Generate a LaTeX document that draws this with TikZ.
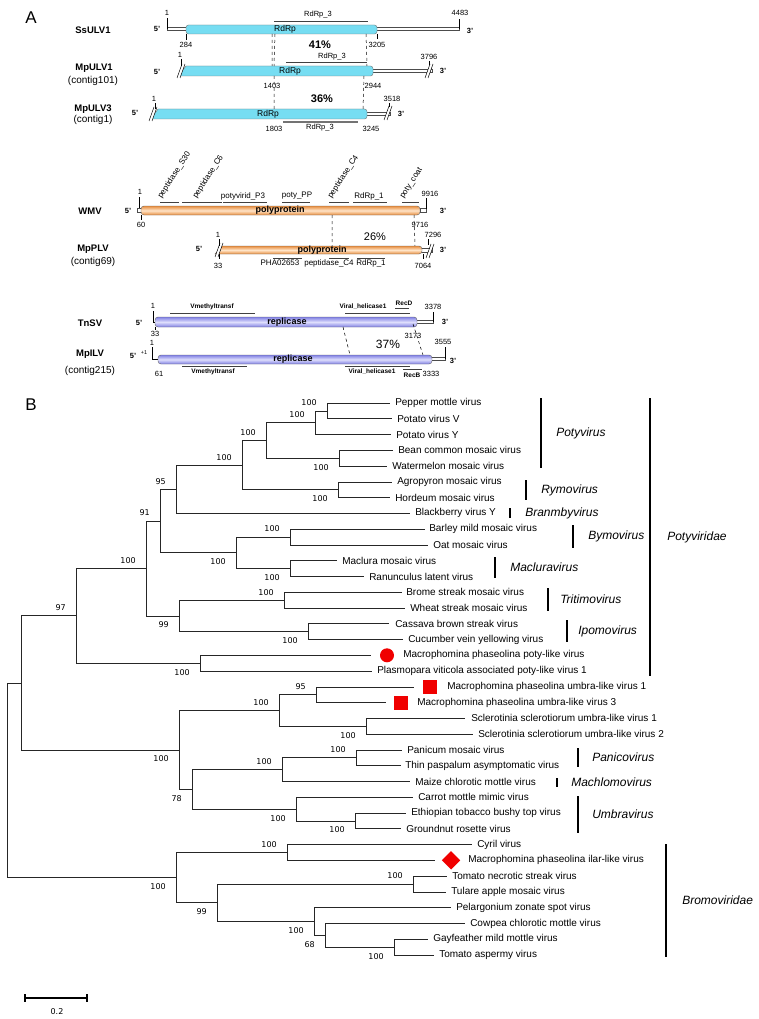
\documentclass[tikz,border=0pt]{standalone}
\usepackage{fontspec}
\setmainfont{Liberation Sans}
\newfontfamily\bootfont{DejaVu Sans}
\usetikzlibrary{positioning}

\definecolor{rdrpcyan}{RGB}{118,221,242}
\definecolor{polyorange}{RGB}{232,142,62}
\definecolor{polylight}{RGB}{255,228,200}
\definecolor{repblue}{RGB}{128,128,228}
\definecolor{replight}{RGB}{222,222,252}
\definecolor{markred}{RGB}{240,0,0}

\begin{document}
\begin{tikzpicture}[x=1pt, y=-1pt, line width=0.5pt]
  \tikzset{every node/.style={inner sep=0pt},
    panel/.style={font=\fontsize{17}{18}\selectfont},
    num/.style={font=\fontsize{7.5}{8}\selectfont},
    feat/.style={font=\fontsize{8}{9}\selectfont},
    featb/.style={font=\bfseries\fontsize{6.5}{7}\selectfont},
    gname/.style={font=\bfseries\fontsize{9.5}{10}\selectfont},
    cname/.style={font=\fontsize{10}{11}\selectfont},
    prime/.style={font=\bfseries\fontsize{7.5}{8}\selectfont},
    pct/.style={font=\bfseries\fontsize{11}{12}\selectfont},
    inbox/.style={font=\fontsize{8.5}{9}\selectfont},
    inboxb/.style={font=\bfseries\fontsize{9}{10}\selectfont},
    utr/.style={draw=black!70, fill=white, line width=0.4pt},
    fbar/.style={draw=black!75, line width=0.7pt},
    rdrpbox/.style={draw=black!55, fill=rdrpcyan, line width=0.4pt},
    polybox/.style={draw=black!60, line width=0.4pt, top color=polyorange, bottom color=polyorange, middle color=polylight},
    repbox/.style={draw=black!60, line width=0.4pt, top color=repblue, bottom color=repblue, middle color=replight},
    link/.style={dashed, line width=0.5pt},
    brk/.pic={\fill[white] (-4,7) -- (1,-7) -- (4,-7) -- (-1,7) -- cycle;
              \draw[line width=0.5pt] (-4,7) -- (1,-7) (-1,7) -- (4,-7);},
    leaf/.style={anchor=west, font=\fontsize{10}{11}\selectfont},
    boot/.style={font=\bootfont\fontsize{8}{9}\selectfont, anchor=east, xshift=-10pt},
    bu/.style={boot, yshift=8pt},
    bd/.style={boot, yshift=-9pt},
    branch/.style={draw=black!85, line width=0.7pt},
    gbar/.style={line width=1.6pt},
    genus/.style={anchor=west, font=\itshape\fontsize{12}{13}\selectfont},
    marker/.style={fill=markred, draw=none}}
  \useasboundingbox (0,0) rectangle (758,1019);

  % ---------------- panel A
  \node[panel] (pA) at (31,18) {A};

  % SsULV1 / MpULV1 / MpULV3
  \node[gname] (ss) at (93,30) {SsULV1};
  \node[prime] at (157,29) {5'};
  \draw[utr] (167,27.5) rectangle (459,30.5);
  \draw (167,29) -- (167,18) (459,29) -- (459,19);
  \node[num] at (167,13) {1};
  \node[num] at (460,13) {4483};
  \node[prime] at (470,31) {3'};
  \draw[rdrpbox, rounded corners=2.5pt] (186,25) rectangle (377,34);
  \node[inbox] at (285,29.5) {RdRp};
  \draw (186,34) -- (186,40) (377,34) -- (377,39);
  \node[num] at (186,45) {284};
  \node[num] at (377,45) {3205};
  \draw[fbar] (274,21) -- (368,21);
  \node[num] at (318,15) {RdRp\_3};
  \node[pct] at (320,45) {41\%};

  \node[gname] (mu1) at (94,68) {MpULV1};
  \node[cname] at (93,81) {(contig101)};
  \node[prime] at (157,72) {5'};
  \draw[utr] (370,69.5) rectangle (432,72.5);
  \draw[rdrpbox] (178,76) -- (186,66) [rounded corners=2.5pt] -- (373,66) -- (373,76) [sharp corners] -- cycle;
  \pic at (181,71) {brk};
  \pic at (429,71) {brk};
  \node[prime] at (443,71) {3'};
  \draw (181,59) -- (181,66) (429,61) -- (429,65);
  \node[num] at (180,55) {1};
  \node[num] at (429,57) {3796};
  \node[inbox] at (290,71) {RdRp};
  \draw[fbar] (286,62) -- (367,62);
  \node[num] at (332,57) {RdRp\_3};
  \node[num] at (272,86) {1403};
  \node[num] at (373,86) {2944};
  \node[pct] at (322,99) {36\%};

  \node[gname] (mu3) at (93,109) {MpULV3};
  \node[cname] at (93,120) {(contig1)};
  \node[prime] at (135,113) {5'};
  \draw[utr] (365,112.5) rectangle (390,115.5);
  \draw[rdrpbox] (151,119) -- (158,109) [rounded corners=2.5pt] -- (367,109) -- (367,119) [sharp corners] -- cycle;
  \pic at (153,114) {brk};
  \pic at (388,113) {brk};
  \node[prime] at (401,114) {3'};
  \draw (155,103) -- (155,109) (389,103) -- (389,107);
  \node[num] at (154,99) {1};
  \node[num] at (392,99) {3518};
  \node[inbox] at (268,114) {RdRp};
  \draw[draw=black!55, line width=1.4pt] (283,122) -- (358,122);
  \node[num] at (320,128) {RdRp\_3};
  \node[num] at (274,129) {1803};
  \node[num] at (371,129) {3245};

  \draw[link] (272,34) -- (272,66) (275,34) -- (274,66) (274,76) -- (274,109);
  \draw[link] (366,34) -- (367,66) (364,76) -- (363,109);

  % WMV / MpPLV
  \node[gname] (wmv) at (90,211) {WMV};
  \node[gname] (mplv) at (93,249) {MpPLV};
  \node[cname] at (93,262) {(contig69)};
  \node[prime] at (128,211) {5'};
  \draw[utr] (137,208.5) rectangle (141,212.5);
  \draw (139,208) -- (139,197);
  \node[num] at (140,192) {1};
  \draw[polybox, rounded corners=3pt] (141,206) rectangle (420,215);
  \node[inboxb] at (280,210.5) {polyprotein};
  \draw[utr] (420,208.5) rectangle (426,212.5);
  \draw (426,209) -- (426,198);
  \node[num] at (430,194) {9916};
  \node[prime] at (443,211) {3'};
  \draw (141,215) -- (141,220);
  \node[num] at (141,225) {60};
  \node[num] at (420,225) {9716};
  \draw[fbar] (160,202) -- (179,202) (182,202) -- (222,202) (223,202) -- (267,202)
              (282,202) -- (310,202) (329,202) -- (349,202) (353,202) -- (387,202)
              (402,202) -- (419,202);
  \node[feat, rotate=57, anchor=south west] at (163,200) {peptidase\_S30};
  \node[feat, rotate=57, anchor=south west] at (198,200) {peptidase\_C6};
  \node[feat] at (243,196) {potyvirid\_P3};
  \node[feat] at (297,196) {poty\_PP};
  \node[feat, rotate=57, anchor=south west] at (333,200) {peptidase\_C4};
  \node[feat] at (369,196) {RdRp\_1};
  \node[feat, rotate=57, anchor=south west] at (405,200) {poty\_coat};
  \draw[link] (332,215) -- (332,246) (414,215) -- (415,246);
  \node[pct, font=\fontsize{11}{12}\selectfont] at (375,237) {26\%};

  \node[prime] at (199,249) {5'};
  \draw[utr] (420,248.5) rectangle (432,252.5);
  \draw[polybox] (215,254) -- (222,246) [rounded corners=3pt] -- (422,246) -- (422,254) [sharp corners] -- cycle;
  \pic at (219,250) {brk};
  \pic at (430,251) {brk};
  \node[prime] at (443,250) {3'};
  \draw (219,239) -- (219,246) (428,239) -- (428,245);
  \node[num] at (218,235) {1};
  \node[num] at (433,235) {7296};
  \draw (219,254) -- (219,259) (423,254) -- (423,259);
  \node[num] at (218,266) {33};
  \node[num] at (423,266) {7064};
  \node[inboxb] at (322,250) {polyprotein};
  \draw[fbar] (273,258) -- (302,258) (329,258) -- (349,258) (357,258) -- (385,258);
  \node[feat] at (280,263) {PHA02653};
  \node[feat] at (329,263) {peptidase\_C4};
  \node[feat] at (371,263) {RdRp\_1};

  % TnSV / MpILV
  \node[gname] (tnsv) at (90,323) {TnSV};
  \node[gname] (mpilv) at (90,354) {MpILV};
  \node[cname] at (90,371) {(contig215)};
  \node[prime] at (139,323) {5'};
  \draw (153,311) |- (156,322);
  \node[num] at (153,306) {1};
  \draw[utr] (415,320.5) rectangle (433,323.5);
  \draw (433,322) -- (433,312);
  \draw[repbox, rounded corners=3pt] (155,317) rectangle (417,327);
  \node[inboxb] at (287,322) {replicase};
  \node[num] at (433,307) {3378};
  \node[prime] at (445,322) {3'};
  \draw (155,327) -- (155,330);
  \node[num] at (155,334) {33};
  \node[num] at (413,336) {3173};
  \draw[fbar] (170,313) -- (255,313) (345,313) -- (410,313) (395,308.5) -- (409,308.5);
  \node[featb] at (212,307) {Vmethyltransf};
  \node[featb] at (363,307) {Viral\_helicase1};
  \node[featb] at (404,303) {RecD};
  \draw[link] (343,327) -- (350,355) (413,324) -- (423,355);
  \node[font=\fontsize{12}{13}\selectfont] at (388,344) {37\%};

  \node[prime] at (133,356) {5'};
  \node[font=\fontsize{5.5}{6}\selectfont] at (144,353) {+1};
  \draw (152,347) |- (158,359);
  \node[num] at (152,343) {1};
  \draw[utr] (430,357.5) rectangle (445,360.5);
  \draw (445,359) -- (445,347);
  \draw[repbox, rounded corners=3pt] (158,355) rectangle (432,364);
  \node[inboxb] at (293,359.5) {replicase};
  \node[num] at (443,342) {3555};
  \node[prime] at (453,361) {3'};
  \node[num] at (159,374) {61};
  \node[num] at (431,374) {3333};
  \draw[fbar] (182,366) -- (247,366) (345,366) -- (410,366) (403,369) -- (422,369);
  \node[featb] at (213,372) {Vmethyltransf};
  \node[featb] at (372,372) {Viral\_helicase1};
  \node[featb] at (412,375) {RecB};

  % ---------------- panel B
  \node[panel] (pB) at (31,405) {B};

  % leaves: index / branch tip x / label x / name
  \foreach \i/\tx/\lx/\name in {
      1/390/395/Pepper mottle virus, 2/392/397/Potato virus V,
      3/391/396/Potato virus Y, 4/393/398/Bean common mosaic virus,
      5/387/392/Watermelon mosaic virus, 6/392/397/Agropyron mosaic virus,
      7/390/395/Hordeum mosaic virus, 8/410/415/Blackberry virus Y,
      9/425/429/Barley mild mosaic virus, 10/428/433/Oat mosaic virus,
      11/337/342/Maclura mosaic virus, 12/364/369/Ranunculus latent virus,
      13/402/406/Brome streak mosaic virus, 14/405/410/Wheat streak mosaic virus,
      15/389/395/Cassava brown streak virus, 16/403/408/Cucumber vein yellowing virus,
      17/371/403/Macrophomina phaseolina poty-like virus,
      18/372/377/Plasmopara viticola associated poty-like virus 1,
      19/414/447/Macrophomina phaseolina umbra-like virus 1,
      20/386/417/Macrophomina phaseolina umbra-like virus 3,
      21/465/471/Sclerotinia sclerotiorum umbra-like virus 1,
      22/473/478/Sclerotinia sclerotiorum umbra-like virus 2,
      23/402/407/Panicum mosaic virus, 24/401/405/Thin paspalum asymptomatic virus,
      25/410/415/Maize chlorotic mottle virus, 26/413/418/Carrot mottle mimic virus,
      27/406/411/Ethiopian tobacco bushy top virus, 28/401/406/Groundnut rosette virus,
      29/472/477/Cyril virus, 30/435/468/Macrophomina phaseolina ilar-like virus,
      31/447/452/Tomato necrotic streak virus, 32/446/451/Tulare apple mosaic virus,
      33/451/456/Pelargonium zonate spot virus, 34/465/470/Cowpea chlorotic mottle virus,
      35/428/433/Gayfeather mild mottle virus, 36/434/439/Tomato aspermy virus}
  {
    \coordinate (t\i) at (\tx, {403+15.77*(\i-1)});
    \node[leaf] (l\i) at (\lx, {403+15.77*(\i-1)}) {\name};
  }

  % internal nodes
  \coordinate (nA) at (327,410.9);
  \coordinate (nB) at (315,422.7);
  \coordinate (nD) at (339,458.2);
  \coordinate (nC) at (266,440.5);
  \coordinate (nF) at (338,489.8);
  \coordinate (nE) at (242,465.1);
  \coordinate (nG) at (176,489.3);
  \coordinate (nH) at (290,537.0);
  \coordinate (nI) at (290,568.6);
  \coordinate (nJ) at (236,552.8);
  \coordinate (nK) at (160,521.0);
  \coordinate (nL) at (284,600.1);
  \coordinate (nM) at (308,631.7);
  \coordinate (nN) at (179,615.9);
  \coordinate (nO) at (146,568.5);
  \coordinate (nP) at (200,663.2);
  \coordinate (nQ) at (76,615.8);
  \coordinate (nR) at (316,694.8);
  \coordinate (nS) at (366,726.3);
  \coordinate (nT) at (279,710.5);
  \coordinate (nU) at (356,757.8);
  \coordinate (nV) at (282,769.6);
  \coordinate (nW) at (355,820.9);
  \coordinate (nX) at (296,809.1);
  \coordinate (nY) at (192,789.4);
  \coordinate (nZ) at (179,749.9);
  \coordinate (nUm) at (21,682.9);
  \coordinate (nAA) at (287,852.5);
  \coordinate (nAB) at (413,884.0);
  \coordinate (nAC) at (394,947.1);
  \coordinate (nAD) at (325,935.2);
  \coordinate (nAE) at (314,921.4);
  \coordinate (nAF) at (217,902.7);
  \coordinate (nAG) at (176,877.6);
  \coordinate (root) at (7,780.3);

  \foreach \p/\c in {nA/t1, nA/t2, nB/nA, nB/t3, nD/t4, nD/t5, nC/nB, nC/nD,
      nF/t6, nF/t7, nE/nC, nE/nF, nG/nE, nG/t8, nH/t9, nH/t10, nI/t11, nI/t12,
      nJ/nH, nJ/nI, nK/nG, nK/nJ, nL/t13, nL/t14, nM/t15, nM/t16, nN/nL, nN/nM,
      nO/nK, nO/nN, nP/t17, nP/t18, nQ/nO, nQ/nP, nR/t19, nR/t20, nS/t21, nS/t22,
      nT/nR, nT/nS, nU/t23, nU/t24, nV/nU, nV/t25, nW/t27, nW/t28, nX/t26, nX/nW,
      nY/nV, nY/nX, nZ/nT, nZ/nY, nUm/nQ, nUm/nZ, nAA/t29, nAA/t30, nAB/t31, nAB/t32,
      nAC/t35, nAC/t36, nAD/t34, nAD/nAC, nAE/t33, nAE/nAD, nAF/nAB, nAF/nAE,
      nAG/nAA, nAG/nAF, root/nUm, root/nAG}
    \draw[branch] (\p) |- (\c);

  % bootstrap values
  \foreach \n/\v/\s in {nA/100/bu, nB/100/bu, nC/100/bu, nD/100/bd, nE/100/bu,
      nF/100/bd, nG/95/bu, nH/100/bu, nI/100/bd, nJ/100/bd, nK/91/bu, nL/100/bu,
      nM/100/bd, nN/99/bd, nO/100/bu, nP/100/bd, nQ/97/bu, nR/95/bu, nS/100/bd,
      nT/100/bu, nU/100/bu, nV/100/bu, nW/100/bd, nX/100/bd, nY/78/bd, nZ/100/bd,
      nAA/100/bu, nAB/100/bu, nAC/100/bd, nAD/68/bd, nAE/100/bd, nAF/99/bd, nAG/100/bd}
    \node[\s] (b\n) at (\n) {\v};

  % markers for the new viruses
  \node[marker, circle, minimum size=14pt] (mk1) at (387,655.3) {};
  \node[marker, minimum size=14pt] (mk2) at (430,686.9) {};
  \node[marker, minimum size=14pt] (mk3) at (401,702.6) {};
  \node[marker, minimum size=13pt, rotate=45] (mk4) at (451,860.3) {};

  % genera and families
  \foreach \k/\gx/\ya/\yb/\gname/\gs in {1/541/398/468/Potyvirus/15, 2/526/480/500/Rymovirus/15,
      3/510/508/518/Branmbyvirus/15, 4/573/525/548/Bymovirus/15,
      5/495/557/578/Macluravirus/15, 6/548/588/611/Tritimovirus/12,
      7/567/620/642/Ipomovirus/11, 8/650/398/676/Potyviridae/17,
      9/578/748/767/Panicovirus/14, 10/557/778/787/Machlomovirus/14,
      11/578/796/833/Umbravirus/14, 12/666/844/957/Bromoviridae/16}
  {
    \draw[gbar] (\gx,\ya) -- (\gx,\yb);
    \node[genus] (g\k) at ({\gx+\gs}, {(\ya+\yb)/2}) {\gname};
  }

  % scale bar
  \coordinate (sb0) at (25,998);
  \coordinate (sb1) at (87,998);
  \draw[line width=1.2pt] (sb0) -- (sb1) ([yshift=4pt]sb0) -- ([yshift=-4pt]sb0)
    ([yshift=4pt]sb1) -- ([yshift=-4pt]sb1);
  \node[font=\bootfont\fontsize{8}{9}\selectfont] (sbl) at (57,1012) {0.2};
\end{tikzpicture}
\end{document}
